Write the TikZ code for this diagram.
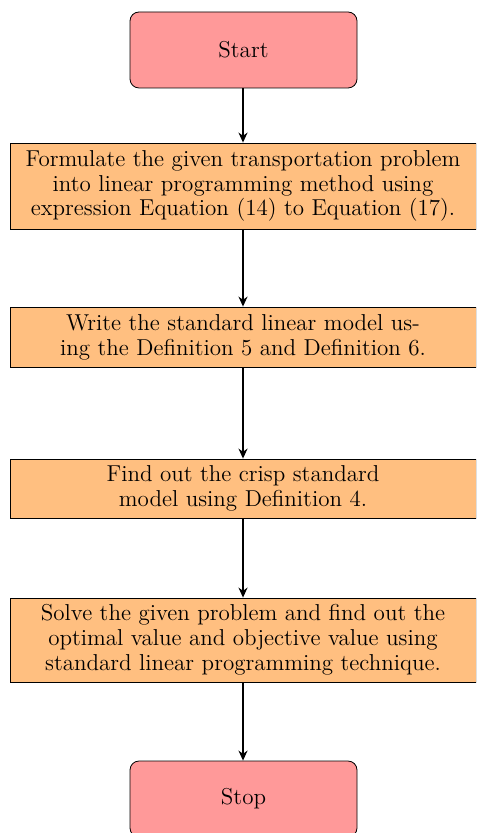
\documentclass[tikz,border=0pt]{standalone}
\usetikzlibrary{arrows.meta}
\begin{document}
\begin{tikzpicture}[x=0.5pt,y=-0.5pt,
  every node/.style={font=\fontsize{11.5}{12.4}\selectfont},
  term/.style={draw=black, thin, fill=red!40, rounded corners=4.5pt, minimum width=113.5pt, minimum height=38pt, inner sep=0pt, align=center},
  proc/.style={draw=black, thin, fill=orange!50, minimum width=233pt, inner sep=0pt, align=center},
  conn/.style={thick, -{Stealth[length=5pt,width=4.5pt]}}]
\useasboundingbox (0,0) rectangle (476,833);
\begin{scope}
\clip (0,0) rectangle (476,833);
\node[term] (start) at (243.5,50) {Start};
\node[proc, minimum height=43pt] (b1) at (243,186) {Formulate the given transportation problem\\into linear programming method using\\expression Equation (14) to Equation (17).};
\node[proc, minimum height=30pt] (b2) at (243,337) {Write the standard linear model us-\\ing the Definition 5 and Definition 6.};
\node[proc, minimum height=29.5pt] (b3) at (243,488.5) {Find out the crisp standard\\model using Definition 4.};
\node[proc, minimum height=42pt] (b4) at (243,640) {Solve the given problem and find out the\\optimal value and objective value using\\standard linear programming technique.};
\node[term] (stop) at (243.5,799) {Stop};
\end{scope}
\draw[conn] (start.south -| b1.north) -- (b1.north);
\draw[conn] (b1.south) -- (b2.north);
\draw[conn] (b2.south) -- (b3.north);
\draw[conn] (b3.south) -- (b4.north);
\draw[conn] (b4.south) -- (stop.north -| b4.south);
\end{tikzpicture}
\end{document}
